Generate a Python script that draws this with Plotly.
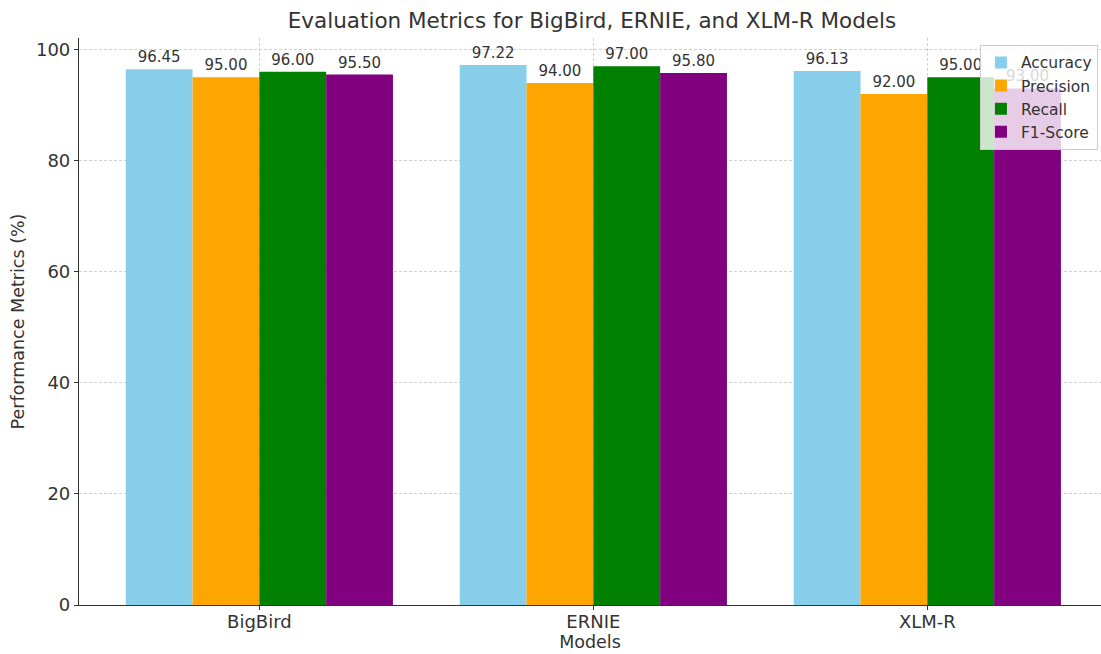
import plotly.graph_objects as go

models = ["BigBird", "ERNIE", "XLM-R"]
metrics = ["Accuracy", "Precision", "Recall", "F1-Score"]
accuracy = [96.45, 97.22, 96.13]
precision = [95.00, 94.00, 92.00]
recall = [96.00, 97.00, 95.00]
f1_score = [95.50, 95.80, 93.00]
colors = ["#87CEEB", "#FFA500", "#008000", "#800080"]
series = [accuracy, precision, recall, f1_score]
y_ticks = [0, 20, 40, 60, 80, 100]

FONT = "DejaVu Sans, sans-serif"
TXT = "#333333"
fig = go.Figure()
for name, vals, col in zip(metrics, series, colors):
    fig.add_trace(go.Bar(
        x=list(range(len(models))), y=vals, name=name,
        marker=dict(color=col, line=dict(width=0)),
        text=[f"{v:.2f}" for v in vals], textposition="outside",
        textfont=dict(family=FONT, size=15, color=TXT),
        cliponaxis=False,
    ))

fig.update_layout(
    width=1101, height=654,
    margin=dict(l=79, r=0, t=38, b=49),
    plot_bgcolor="white", paper_bgcolor="white",
    barmode="group", bargap=0.2, bargroupgap=0,
    font=dict(family=FONT, color=TXT),
    title=dict(text="Evaluation Metrics for BigBird, ERNIE, and XLM-R Models",
               x=(592 / 1101), xanchor="center", y=1 - 20 / 654, yanchor="middle",
               font=dict(size=21.5, family=FONT, color=TXT)),
    legend=dict(x=0.997, y=0.988, xanchor="right", yanchor="top",
                bgcolor="rgba(255,255,255,0.8)", bordercolor="#cccccc", borderwidth=1,
                font=dict(size=15.5, family=FONT, color=TXT),
                itemwidth=30, tracegroupgap=0),
    showlegend=True,
)
fig.update_xaxes(
    range=[-0.54, 2.52], tickmode="array", tickvals=list(range(len(models))), ticktext=models,
    showgrid=True, gridcolor="#d0d0d0", griddash="3px,2px", gridwidth=1,
    showline=True, linecolor=TXT, linewidth=1.2,
    ticks="outside", ticklen=4, tickcolor=TXT, ticklabelstandoff=-4,
    tickfont=dict(size=18, family=FONT, color=TXT),
    title=dict(text="Models", font=dict(size=17.5, family=FONT, color=TXT), standoff=4),
    zeroline=False,
)
fig.update_yaxes(
    range=[0, 102.08], tickmode="array", tickvals=y_ticks,
    showgrid=True, gridcolor="#d0d0d0", griddash="3px,2px", gridwidth=1,
    showline=True, linecolor=TXT, linewidth=1.2,
    ticks="outside", ticklen=4, tickcolor=TXT,
    tickfont=dict(size=18, family=FONT, color=TXT),
    title=dict(text="Performance Metrics (%)", font=dict(size=17.5, family=FONT, color=TXT), standoff=6),
    zeroline=False,
)
fig.write_html("out.html", config={"displayModeBar": False},
               post_script="document.body.style.margin='0';document.body.style.overflow='hidden';")
